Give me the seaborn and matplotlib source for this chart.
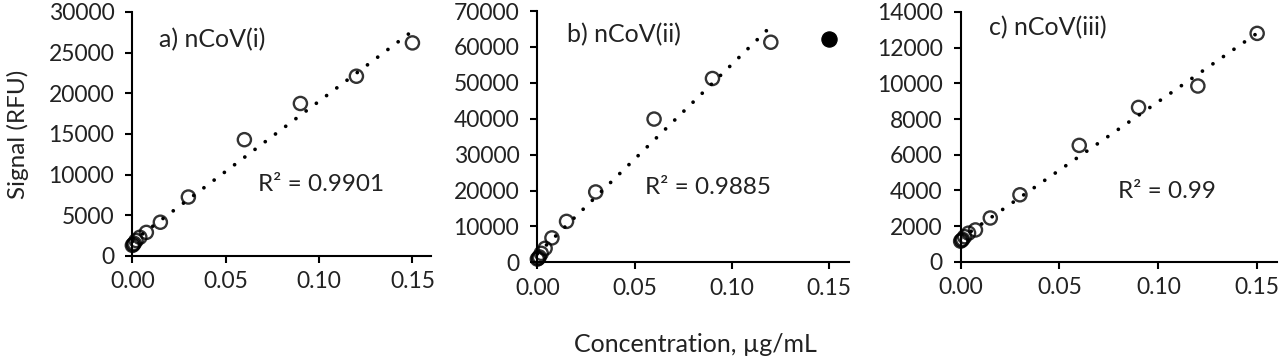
import numpy as np
import pandas as pd
import seaborn as sns
import matplotlib
matplotlib.use("Agg")
import matplotlib.pyplot as plt

# concentracoes (ug/mL) e sinais (RFU)
conc = [0, 0.0005, 0.001, 0.002, 0.004, 0.0075, 0.015, 0.03, 0.06, 0.09, 0.12, 0.15]
sinal_i = [1300, 1400, 1550, 1900, 2300, 2900, 4150, 7250, 14300, 18750, 22100, 26200]
sinal_ii = [900, 1100, 1500, 2500, 3900, 6800, 11400, 19600, 39900, 51200, 61300]
outlier_ii_x = [0.15]
outlier_ii_y = [62100]
sinal_iii = [1150, 1200, 1250, 1400, 1600, 1780, 2450, 3750, 6520, 8650, 9850, 12800]

titulos = ["a) nCoV(i)", "b) nCoV(ii)", "c) nCoV(iii)"]
r2_textos = ["R\u00b2 = 0.9901", "R\u00b2 = 0.9885", "R\u00b2 = 0.99"]
y_max = [30000, 70000, 14000]
y_passo = [5000, 10000, 2000]
x_ticks = [0.0, 0.05, 0.10, 0.15]

sns.set_theme(style="ticks")
plt.rcParams["font.family"] = ["Lato", "DejaVu Sans"]
plt.rcParams["axes.linewidth"] = 1.5

fig = plt.figure(figsize=(12.8, 3.61), dpi=100)
posicoes = [
    [0.1034, 0.2909, 0.2334, 0.6759],
    [0.4198, 0.2734, 0.2432, 0.6961],
    [0.7505, 0.2751, 0.2471, 0.6917],
]
axes = [fig.add_axes(p) for p in posicoes]

dados = [
    pd.DataFrame({"conc": conc, "sinal": sinal_i}),
    pd.DataFrame({"conc": conc[:len(sinal_ii)], "sinal": sinal_ii}),
    pd.DataFrame({"conc": conc, "sinal": sinal_iii}),
]

titulo_pos = [(0.267, 0.888), (0.277, 0.904), (0.276, 0.936)]
r2_pos = [(0.633, 0.291), (0.547, 0.296), (0.651, 0.283)]

for i, ax in enumerate(axes):
    df = dados[i]
    sns.regplot(
        data=df, x="conc", y="sinal", ax=ax, ci=None,
        scatter_kws={"s": 90, "facecolors": "none", "edgecolors": "black",
                     "linewidths": 1.7, "clip_on": False, "zorder": 3},
        line_kws={"color": "black", "linestyle": (0, (0.01, 3.4)),
                  "dash_capstyle": "round", "linewidth": 2.7, "zorder": 4},
    )
    if i == 1:
        sns.scatterplot(x=outlier_ii_x, y=outlier_ii_y, ax=ax, s=120,
                        color="black", edgecolor="black", clip_on=False, zorder=3)

    ax.set_xlim(0, 0.16)
    ax.set_ylim(0, y_max[i])
    ax.set_xticks(x_ticks)
    ax.set_xticklabels([f"{t:.2f}" for t in x_ticks])
    ax.set_yticks(np.arange(0, y_max[i] + 1, y_passo[i]))
    ax.set_yticklabels([str(v) for v in np.arange(0, y_max[i] + 1, y_passo[i])])
    ax.set_xlabel("")
    ax.set_ylabel("")
    sns.despine(ax=ax)
    for s in ["left", "bottom"]:
        ax.spines[s].set_color("black")
        ax.spines[s].set_linewidth(1.5)
    ax.tick_params(axis="both", direction="out", length=5, width=1.5,
                   colors="black", labelsize=16.5, labelcolor="#222222")
    ax.tick_params(axis="y", pad=8)
    ax.tick_params(axis="x", pad=6)
    ax.set_facecolor("white")

    ax.text(titulo_pos[i][0], titulo_pos[i][1], titulos[i], transform=ax.transAxes,
            ha="center", va="center", fontsize=18, color="#222222")
    ax.text(r2_pos[i][0], r2_pos[i][1], r2_textos[i], transform=ax.transAxes,
            ha="center", va="center", fontsize=17.5, color="#222222")

fig.text(18 / 1280, 1 - 134 / 361, "Signal (RFU)", rotation=90,
         ha="center", va="center", fontsize=17.5, color="#222222")
fig.text(695 / 1280, 1 - 345 / 361, "Concentration, \u00b5g/mL",
         ha="center", va="center", fontsize=18, color="#222222")

fig.savefig("out.png", dpi=100, facecolor="white")
